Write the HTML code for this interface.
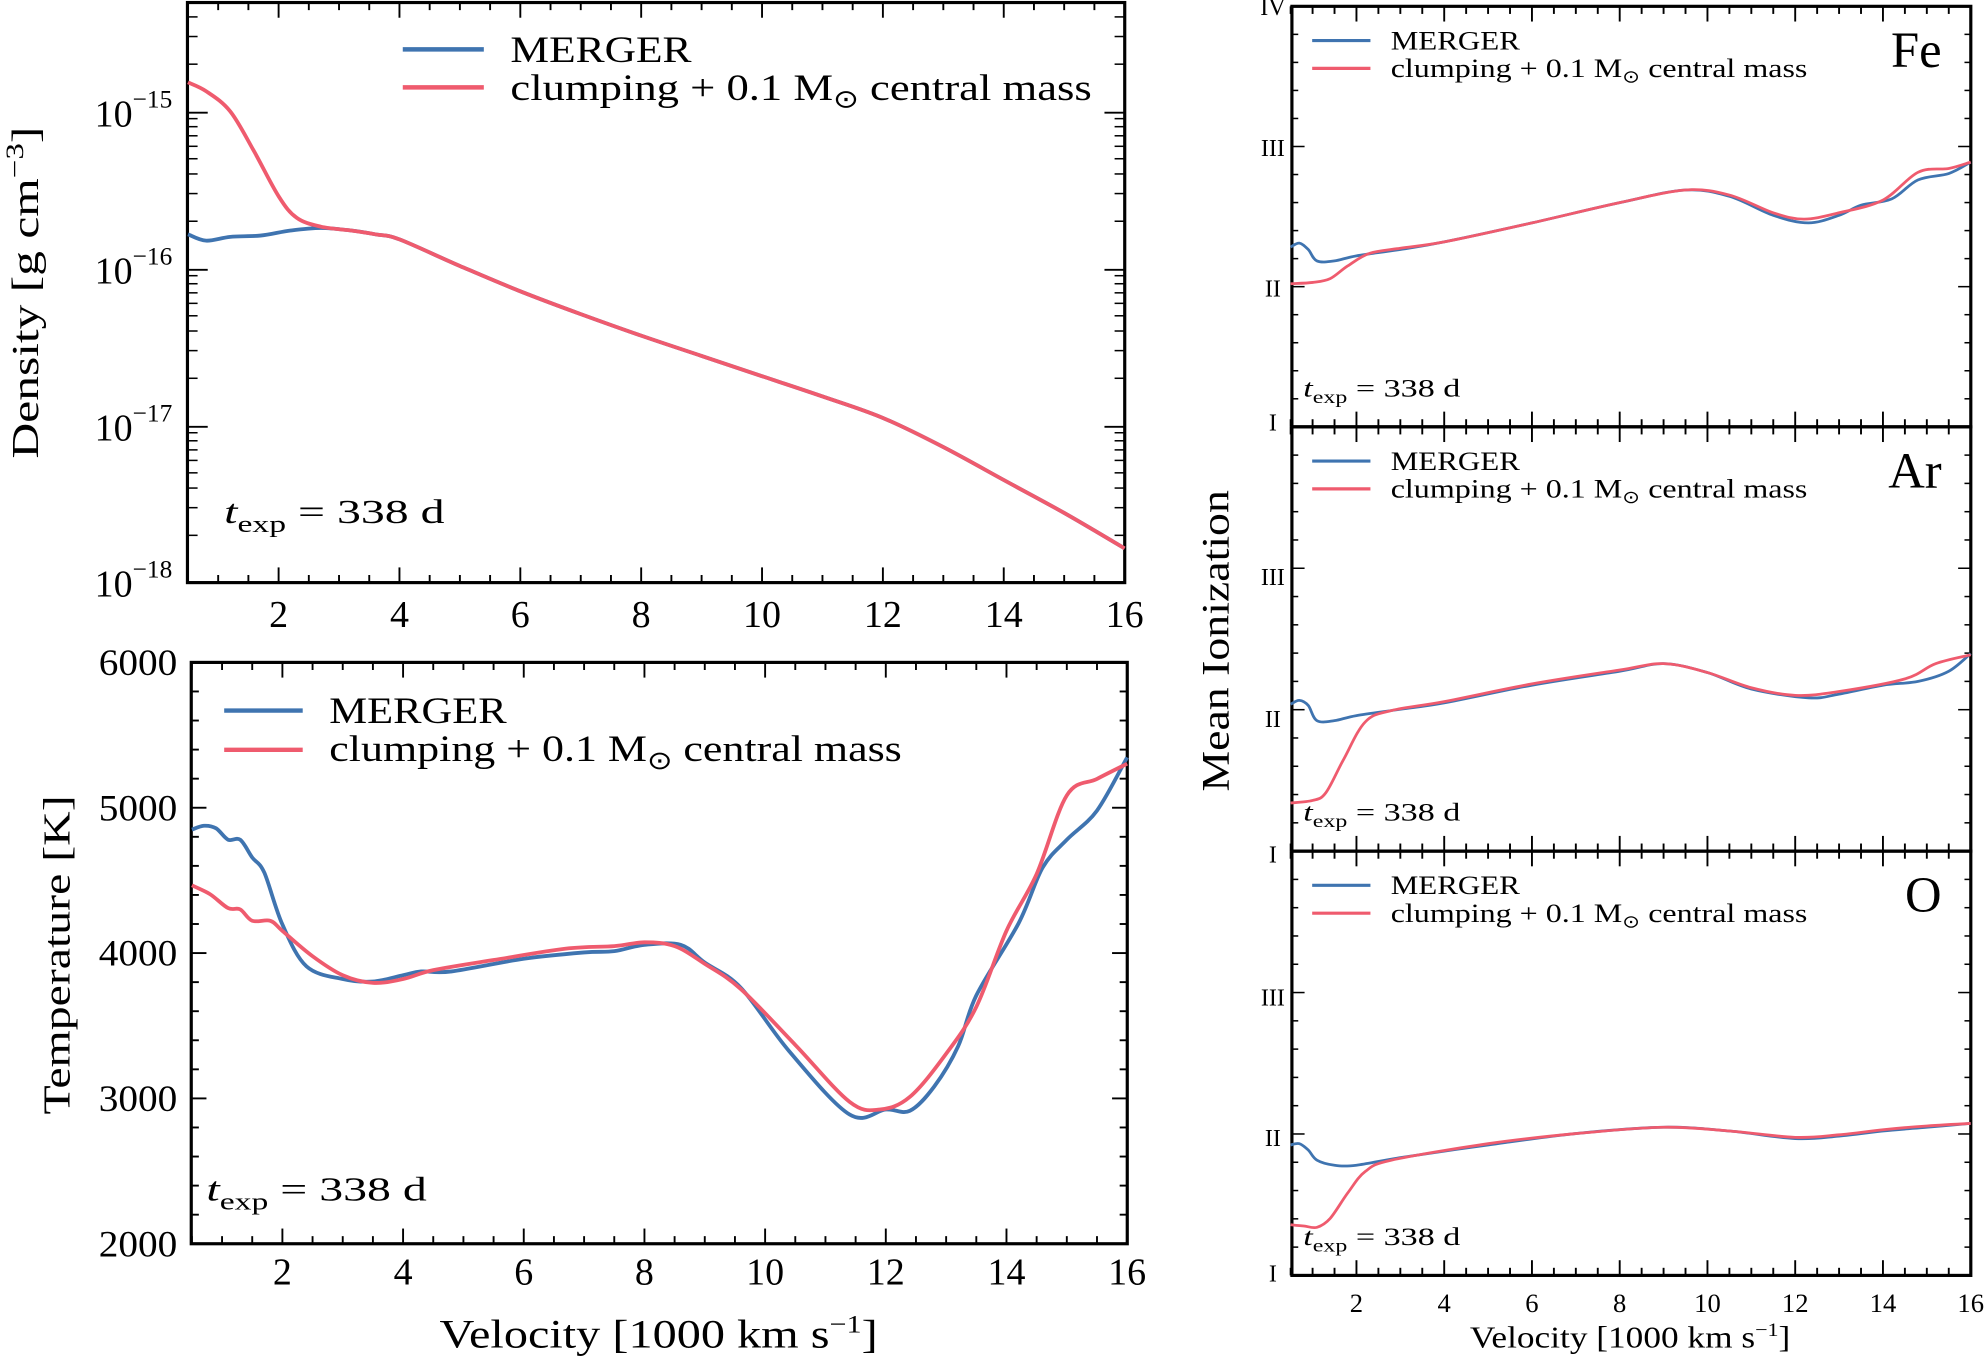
<!DOCTYPE html>
<html><head><meta charset="utf-8"><style>
html,body{margin:0;padding:0;background:#fff}
svg{display:block}
text{font-family:"Liberation Serif",serif;fill:#000}
</style></head><body>
<svg id="s" width="1986" height="1359" viewBox="0 0 1568 1073" preserveAspectRatio="none" xmlns="http://www.w3.org/2000/svg"></svg>
<script>
const S=document.getElementById('s');let h='';
const B='#3f74b0',R='#ef5b6e';
function line(x1,y1,x2,y2,w){h+=`<line x1="${x1}" y1="${y1}" x2="${x2}" y2="${y2}" stroke="#000" stroke-width="${w}"/>`;}
function txt(x,y,t,sz,anc,len){h+=`<text x="${x}" y="${y}" font-size="${sz}" text-anchor="${anc||'middle'}"${len?` textLength="${len}" lengthAdjust="spacingAndGlyphs"`:''}>${t}</text>`;}
function vtxt(x,y,t,sz,len){h+=`<text transform="translate(${x},${y}) rotate(-90)" font-size="${sz}" text-anchor="middle" textLength="${len}" lengthAdjust="spacingAndGlyphs">${t}</text>`;}
function smooth(pts){let d='M'+pts[0][0]+','+pts[0][1];for(let i=1;i<pts.length;i++){const p0=pts[Math.max(0,i-2)],p1=pts[i-1],p2=pts[i],p3=pts[Math.min(pts.length-1,i+1)];const c1x=p1[0]+(p2[0]-p0[0])/6,c1y=p1[1]+(p2[1]-p0[1])/6,c2x=p2[0]-(p3[0]-p1[0])/6,c2y=p2[1]-(p3[1]-p1[1])/6;d+=`C${c1x.toFixed(1)},${c1y.toFixed(1)} ${c2x.toFixed(1)},${c2y.toFixed(1)} ${p2[0].toFixed(1)},${p2[1].toFixed(1)}`;}return d;}
function curve(pts,X,col,w){h+=`<path d="${smooth(pts.map(p=>[X(p[0]),p[1]]))}" fill="none" stroke="${col}" stroke-width="${w}" stroke-linejoin="round"/>`;}
function panel(x0,y0,x1,y1,X,xlab,xsz){
 h+=`<rect x="${x0}" y="${y0}" width="${x1-x0}" height="${y1-y0}" fill="none" stroke="#000" stroke-width="2.5"/>`;
 for(let v=0.5;v<=16.001;v+=0.5){const x=X(v);const maj=Math.abs(v/2-Math.round(v/2))<1e-6;const L=maj?12:6;line(x,y1,x,y1-L,1.5);line(x,y0,x,y0+L,1.5);if(maj&&xlab)txt(x,xlab,v,xsz);}
}
const clump=(s)=>`clumping + 0.1 M<tspan font-size="${s}" dy="${s*0.3}">⊙</tspan><tspan dy="${-s*0.3}"> central mass</tspan>`;
// Density
{const X=v=>148.4+(v-0.5)*47.71;
 panel(148,2,888,460,X,495,30);
 [[-15,89],[-16,213],[-17,337],[-18,460]].forEach(([e,y])=>{line(148,y,164,y,1.5);line(888,y,872,y,1.5);txt(136,y+11,`10<tspan font-size="20" dy="-15">−${-e}</tspan>`,30,'end');});
 for(let d=-18;d<=-15;d++){const yb=460-(d+18)*124;for(let m=2;m<10;m++){const y=yb-Math.log10(m)*124;if(y<2)continue;line(148,y,156,y,1.2);line(888,y,880,y,1.2);}}
 vtxt(30,231,'Density [g cm<tspan font-size="20" dy="-12">−3</tspan><tspan dy="12">]</tspan>',30,262);
 const common=[[4,189],[5,210],[6,230],[7,248],[8,265],[9,281],[10,297],[11,313],[12,330],[13,353],[14,379],[15,405],[16,433]];
 curve([[0.5,185],[0.8,190],[1.2,187],[1.7,186],[2.2,182],[2.7,180],[3.2,182],[3.6,185]].concat(common),X,B,3);
 curve([[0.5,65],[0.8,72],[1.2,88],[1.6,120],[2,155],[2.3,172],[2.7,179],[3.2,182],[3.6,185]].concat(common),X,R,3);
 h+=`<line x1="318" y1="39" x2="382" y2="39" stroke="${B}" stroke-width="3.5"/><line x1="318" y1="69" x2="382" y2="69" stroke="${R}" stroke-width="3.5"/>`;
 txt(403,49,'MERGER',29,'start',143);txt(403,79,clump(20),29,'start',459);
 txt(177,413,'<tspan font-style="italic">t</tspan><tspan font-size="19" dy="7">exp</tspan><tspan dy="-7"> = 338 d</tspan>',27,'start',174);
}
// Temperature
{const X=v=>151.5+(v-0.5)*47.64;
 panel(151,523,890,982,X,1014,30);
 for(let T=2000;T<=6000;T+=200){const y=982-(T-2000)*0.11475;const maj=T%1000==0;const L=maj?12:6;line(151,y,151+L,y,1.5);line(890,y,890-L,y,1.5);if(maj)txt(140,y+10,T,29,'end',62);}
 vtxt(55,754,'Temperature [K]',30,252);
 txt(520,1064,'Velocity [1000 km s<tspan font-size="20" dy="-12">−1</tspan><tspan dy="12">]</tspan>',32,'middle',346);
 curve([[0.5,655],[0.7,652],[0.9,654],[1.1,663],[1.3,663],[1.5,677],[1.7,689],[2,730],[2.4,763],[3,773],[3.5,775],[4,770],[4.3,767],[4.8,767],[6,757],[7,752],[7.5,751],[8,746],[8.6,746],[9,760],[9.6,780],[10.4,830],[11.4,880],[12,876],[12.4,877],[12.8,858],[13.2,826],[13.5,786],[14.2,729],[14.6,685],[15,663],[15.5,640],[16,598]],X,B,3);
 curve([[0.5,699],[0.8,706],[1.1,717],[1.3,718],[1.5,727],[1.8,727],[2,735],[2.5,755],[3,770],[3.5,776],[4,773],[4.5,766],[5.5,758],[6.7,749],[7.5,747],[8,744],[8.5,747],[9,761],[9.6,781],[10.5,825],[11.4,870],[11.9,876],[12.4,866],[13,832],[13.5,795],[14,735],[14.5,690],[15,628],[15.5,615],[16,603]],X,R,3);
 h+=`<line x1="177" y1="561" x2="239" y2="561" stroke="${B}" stroke-width="3.5"/><line x1="177" y1="592" x2="239" y2="592" stroke="${R}" stroke-width="3.5"/>`;
 txt(260,571,'MERGER',29,'start',140);txt(260,601,clump(20),29,'start',452);
 txt(163,948,'<tspan font-style="italic">t</tspan><tspan font-size="19" dy="7">exp</tspan><tspan dy="-7"> = 338 d</tspan>',27,'start',174);
}
// Ionization
{const X=v=>1019+(v-0.5)*34.64;
 const panels=[
  {y0:5,y1:337,el:'Fe',labs:[['IV',5],['III',116],['II',227],['I',333]],
   b:[[0.5,195],[0.7,192],[0.9,197],[1.1,206],[1.5,206],[2,202],[3,197],[4,191],[6,176],[8,160],[9.5,150],[10.5,155],[11.5,170],[12.3,176],[13,170],[13.5,162],[14.2,157],[14.8,142],[15.5,137],[16,128]],
   r:[[0.5,224],[1,223],[1.4,220],[1.8,210],[2.3,200],[3,196],[4,191],[6,176],[8,160],[9.5,150],[10.5,154],[11.5,168],[12.2,173],[13,168],[14,158],[14.8,136],[15.5,133],[16,128]]},
  {y0:337,y1:672,el:'Ar',labs:[['III',455],['II',567]],
   b:[[0.5,556],[0.7,553],[0.9,557],[1.1,569],[1.5,569],[2,565],[3,560],[4,555],[6,541],[8,530],[9,524],[10,531],[11,544],[12.3,551],[13,548],[14,541],[14.8,538],[15.5,530],[16,516]],
   r:[[0.5,634],[1,632],[1.3,626],[1.7,600],[2.2,570],[2.8,561],[4,554],[6,540],[8,529],[9,524],[10,531],[11,543],[12,549],[13,546],[14.5,536],[15.2,524],[16,517]]},
  {y0:672,y1:1007,el:'O',labs:[['I',674],['III',787],['II',898],['I',1005]],
   b:[[0.5,904],[0.7,903],[0.9,908],[1.1,916],[1.5,920],[2,920],[3,914],[5,904],[7,895],[9,890],[10.5,893],[12,899],[13,897],[14,893],[15,890],[16,887]],
   r:[[0.5,967],[0.8,968],[1.1,969],[1.4,962],[1.8,942],[2.2,925],[2.8,916],[5,903],[7,895],[9,890],[10.5,893],[12,898],[13,896],[14,892],[15,889],[16,887]]}
 ];
 panels.forEach((p,i)=>{
  panel(1020,p.y0,1556,p.y1,X,i==2?1036:null,21);
  const u=(p.y1-p.y0)/3;
  for(let k=0;k<=15;k++){const y=p.y1-k*u/5;const maj=k%5==0;const L=maj?10:5;line(1020,y,1020+L,y,1.2);line(1556,y,1556-L,y,1.2);}
  p.labs.forEach(([t,y])=>txt(1005,y+7,t,19));
  curve(p.b,X,B,2.2);curve(p.r,X,R,2.2);
  const ly=p.y0+27;
  h+=`<line x1="1036" y1="${ly}" x2="1082" y2="${ly}" stroke="${B}" stroke-width="2.5"/><line x1="1036" y1="${ly+22}" x2="1082" y2="${ly+22}" stroke="${R}" stroke-width="2.5"/>`;
  txt(1098,ly+7,'MERGER',21,'start',102);txt(1098,ly+29,clump(14),21,'start',329);
  txt(1533,p.y0+48,p.el,40,'end');
  txt(1029,p.y1-24,'<tspan font-style="italic">t</tspan><tspan font-size="14" dy="5">exp</tspan><tspan dy="-5"> = 338 d</tspan>',20,'start',124);
 });
 vtxt(970,506,'Mean Ionization',31,238);
 txt(1287,1064,'Velocity [1000 km s<tspan font-size="15" dy="-9">−1</tspan><tspan dy="9">]</tspan>',24,'middle',253);
}
S.innerHTML=h;
</script>
</body></html>
